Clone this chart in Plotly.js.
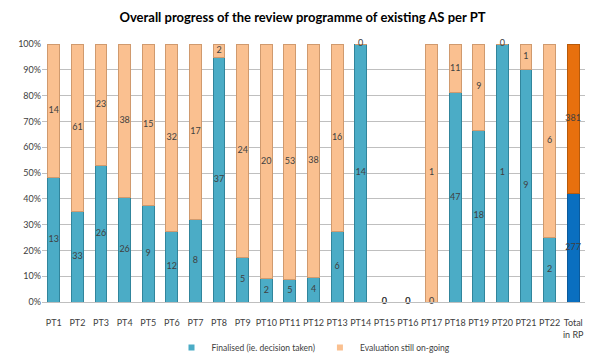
<!DOCTYPE html>
<html><head><meta charset="utf-8">
<script src="https://cdn.plot.ly/plotly-3.0.1.min.js"></script>
<style>html,body{margin:0;padding:0;background:#fff}#c{width:605px;height:358px}</style>
</head><body><div id="c"></div>
<script>
var categories = ["PT1","PT2","PT3","PT4","PT5","PT6","PT7","PT8","PT9","PT10","PT11","PT12","PT13","PT14","PT15","PT16","PT17","PT18","PT19","PT20","PT21","PT22","Total<br>in RP"];
var finalised = [13,33,26,26,9,12,8,37,5,2,5,4,6,14,0,0,0,47,18,1,9,2,277];
var ongoing   = [14,61,23,38,15,32,17,2,24,20,53,38,16,0,0,0,1,11,9,0,1,6,381];
var seriesNames = ['Finalised (ie. decision taken)', 'Evaluation still on-going'];

var n = categories.length;
var blueCols = [], orangeCols = [], blueLine = [], orangeLine = [];
for (var i = 0; i < n; i++) {
  var last = (i === n - 1);
  blueCols.push(last ? '#0A6FC0' : '#4BACC6');
  orangeCols.push(last ? '#E8700E' : '#FAC090');
  blueLine.push(last ? '#0A5A9C' : '#31859C');
  orangeLine.push(last ? '#B85A0A' : '#D09A6E');
}

var fy = [], oy = [], ftxt = [], otxt = [];
for (var j = 0; j < n; j++) {
  var tot = finalised[j] + ongoing[j];
  var p = tot > 0 ? finalised[j] / tot * 100 : 0;
  fy.push(tot > 0 ? (finalised[j] === 0 ? 0 : p / 2) : 0);
  oy.push(tot > 0 ? (ongoing[j] === 0 ? 100 : p + (100 - p) / 2) : 0);
  ftxt.push(String(finalised[j]));
  otxt.push(String(ongoing[j]));
}

var fam = 'Lato, "Open Sans", sans-serif';
var fnt = {family: fam, size: 9, color: '#404040'};

var data = [
  {type: 'bar', name: seriesNames[0], x: categories, y: finalised, showlegend: false,
   marker: {color: blueCols, line: {color: blueLine, width: 1}}, width: 0.5, hoverinfo: 'none'},
  {type: 'bar', name: seriesNames[1], x: categories, y: ongoing, showlegend: false,
   marker: {color: orangeCols, line: {color: orangeLine, width: 1}}, width: 0.5, hoverinfo: 'none'},
  {type: 'scatter', mode: 'text', x: categories, y: fy, text: ftxt, textfont: fnt, showlegend: false, hoverinfo: 'none', cliponaxis: false},
  {type: 'scatter', mode: 'text', x: categories, y: oy, text: otxt, textfont: fnt, showlegend: false, hoverinfo: 'none', cliponaxis: false},
  {type: 'scatter', mode: 'markers', name: seriesNames[0], x: [null], y: [null],
   marker: {symbol: 'square', size: 6, color: '#4BACC6'}, hoverinfo: 'none'},
  {type: 'scatter', mode: 'markers', name: seriesNames[1], x: [null], y: [null],
   marker: {symbol: 'square', size: 6, color: '#FAC090'}, hoverinfo: 'none'}
];

var layout = {
  width: 605, height: 358,
  margin: {l: 42, r: 20, t: 44, b: 56, autoexpand: false},
  paper_bgcolor: '#fff', plot_bgcolor: '#fff',
  barmode: 'stack', barnorm: 'percent',
  title: {text: '<b>Overall progress of the review programme of existing AS per PT</b>',
          font: {family: fam, size: 13, color: '#000'},
          x: 0.5, xanchor: 'center', y: 0.952, yanchor: 'middle'},
  font: fnt,
  xaxis: {type: 'category', range: [-0.5, n - 0.5], showgrid: false, zeroline: false,
          showline: true, linecolor: '#BFBFBF', ticks: '', tickfont: fnt, tickangle: 0,
          ticklabelstandoff: 12},
  yaxis: {range: [0, 100], dtick: 10, ticksuffix: '%', showgrid: true, gridcolor: '#BFBFBF',
          gridwidth: 1, zeroline: false, showline: false, ticks: '', tickfont: fnt},
  legend: {orientation: 'h', x: 0.5, xanchor: 'center', y: -0.12, yanchor: 'top',
           font: {family: fam, size: 8.5, color: '#404040'}, traceorder: 'normal', itemwidth: 30},
  showlegend: true
};

Plotly.newPlot('c', data, layout, {displayModeBar: false, staticPlot: true});
</script></body></html>
